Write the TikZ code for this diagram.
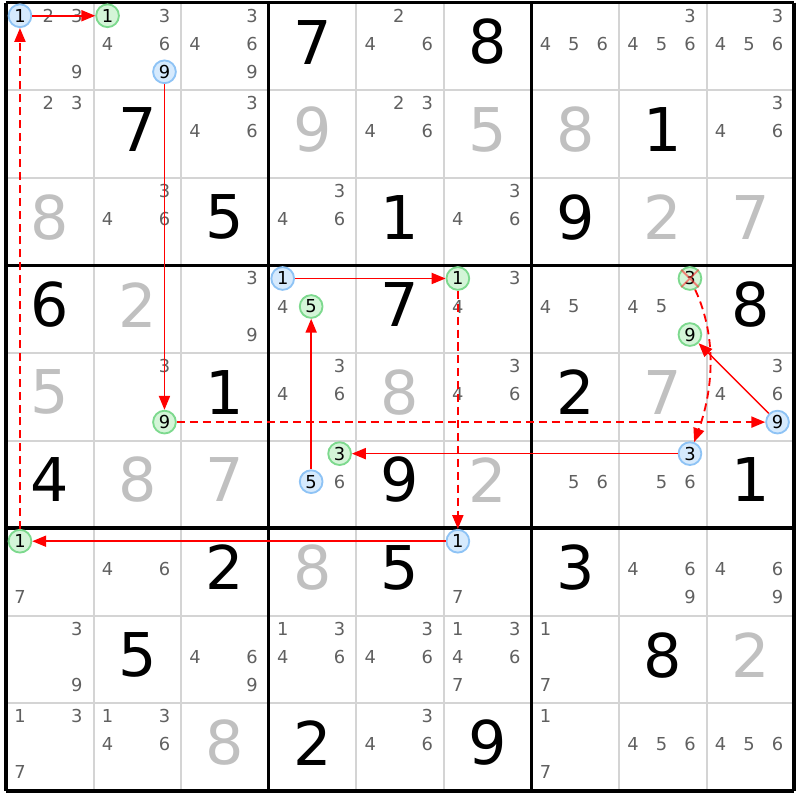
\documentclass[tikz,border=0pt]{standalone}
\usepackage{fontspec}
\setmainfont{DejaVu Sans}
\usetikzlibrary{arrows.meta}

\definecolor{candgray}{HTML}{606060}
\definecolor{solvedgray}{HTML}{C0C0C0}
\definecolor{gridgray}{HTML}{D4D4D4}
\definecolor{bluefill}{HTML}{D6EAFD}
\definecolor{blueline}{HTML}{8EC3F5}
\definecolor{greenfill}{HTML}{D4F5D8}
\definecolor{greenline}{HTML}{7DD98E}

\begin{document}
\begin{tikzpicture}
        [cand/.style = {font=\fontsize{5.8}{6}\selectfont,
        text=candgray, inner sep=0pt},
        given/.style = {font=\fontsize{19.6}{20}\selectfont, inner sep=0pt},
        solved/.style = {given, text=solvedgray},
        greendot/.style = {circle, draw=greenline, fill=greenfill,
        line width=0.6pt, minimum size=0.26cm, inner sep=0pt,
        font=\fontsize{5.8}{6}\selectfont},
        bluedot/.style = {greendot, draw=blueline, fill=bluefill},
        strongline/.style = {red, line width=0.5pt,
        -{Triangle[length=4.5pt,width=3.6pt]}},
        weakline/.style = {strongline, line width=0.6pt,
        dash pattern=on 2.6pt off 1.6pt}]

        \useasboundingbox (-0.068,0.03) rectangle (9.064,-9.105);

        % Grid
        \foreach \i in {1,...,8} {
            \draw[gridgray, line width=0.65pt] (\i,0) -- (\i,-9);
            \draw[gridgray, line width=0.65pt] (0,-\i) -- (9,-\i);
        }
        \foreach \i in {0,3,6,9} {
            \draw[line width=1.1pt] (\i,0) -- (\i,-9);
            \draw[line width=1.1pt] (0,-\i) -- (9,-\i);
        }

        % Givens
        \foreach \r/\c/\d in {1/4/7,1/6/8,2/2/7,2/8/1,3/3/5,3/5/1,3/7/9,
            4/1/6,4/5/7,4/9/8,5/3/1,5/7/2,6/1/4,6/5/9,6/9/1,7/3/2,7/5/5,
            7/7/3,8/2/5,8/8/8,9/4/2,9/6/9}
            \node[given] (g\r\c) at (\c-0.5,0.55-\r) {\d};

        % Solved cells
        \foreach \r/\c/\d in {2/4/9,2/6/5,2/7/8,3/1/8,3/8/2,3/9/7,4/2/2,
            5/1/5,5/5/8,5/8/7,6/2/8,6/3/7,6/6/2,7/4/8,8/9/2,9/3/8}
            \node[solved] (s\r\c) at (\c-0.5,0.55-\r) {\d};

        % Candidates
        \foreach \r/\c/\ds in {1/1/{2,3,9},1/2/{3,4,6},1/3/{3,4,6,9},
            1/5/{2,4,6},1/7/{4,5,6},1/8/{3,4,5,6},1/9/{3,4,5,6},
            2/1/{2,3},2/3/{3,4,6},2/5/{2,3,4,6},2/9/{3,4,6},
            3/2/{3,4,6},3/4/{3,4,6},3/6/{3,4,6},
            4/3/{3,9},4/4/{4},4/6/{3,4},4/7/{4,5},4/8/{4,5},
            5/2/{3},5/4/{3,4,6},5/6/{3,4,6},5/9/{3,4,6},
            6/4/{6},6/7/{5,6},6/8/{5,6},
            7/1/{7},7/2/{4,6},7/6/{7},7/8/{4,6,9},7/9/{4,6,9},
            8/1/{3,9},8/3/{4,6,9},8/4/{1,3,4,6},8/5/{3,4,6},
            8/6/{1,3,4,6,7},8/7/{1,7},
            9/1/{1,3,7},9/2/{1,3,4,6},9/5/{3,4,6},9/7/{1,7},
            9/8/{4,5,6},9/9/{4,5,6}}
            \foreach \d in \ds {
                \pgfmathsetmacro\x{\c-0.515+0.325*(mod(\d-1,3)-1)}
                \pgfmathsetmacro\y{0.53-\r-0.32*(floor((\d-1)/3)-1)}
                \node[cand] (c\r\c\d) at (\x,\y) {\d};
            }

        % Chain
        \foreach \n/\r/\c/\d/\s in {a1/1/1/1/bluedot,b1/1/2/1/greendot,
            a2/1/2/9/bluedot,b2/5/2/9/greendot,a3/5/9/9/bluedot,
            b3/4/8/9/greendot,x/4/8/3/greendot,a4/6/8/3/bluedot,
            b4/6/4/3/greendot,a5/6/4/5/bluedot,b5/4/4/5/greendot,
            a6/4/4/1/bluedot,b6/4/6/1/greendot,a7/7/6/1/bluedot,
            b7/7/1/1/greendot} {
                \pgfmathsetmacro\x{\c-0.515+0.325*(mod(\d-1,3)-1)}
                \pgfmathsetmacro\y{0.53-\r-0.32*(floor((\d-1)/3)-1)}
                \node[\s] (\n) at (\x,\y) {\d};
            }

        % Eliminated
        \draw[red!80, opacity=0.6, line width=0.6pt] (x.45) -- (x.-135) (x.135) -- (x.-45);

        \draw[strongline] (a1) -- (b1);
        \draw[strongline] (a2) -- (b2);
        \draw[weakline] (b2) -- (a3);
        \draw[strongline] (a3) -- (b3);
        \draw[weakline] (x) to[out=-65,in=70,looseness=0.9] (a4);
        \draw[strongline] (a4) -- (b4);
        \draw[strongline] (a5) -- (b5);
        \draw[strongline] (a6) -- (b6);
        \draw[weakline] (b6) -- (a7);
        \draw[strongline] (a7) -- (b7);
        \draw[weakline] (b7) -- (a1);
    \end{tikzpicture}
\end{document}
